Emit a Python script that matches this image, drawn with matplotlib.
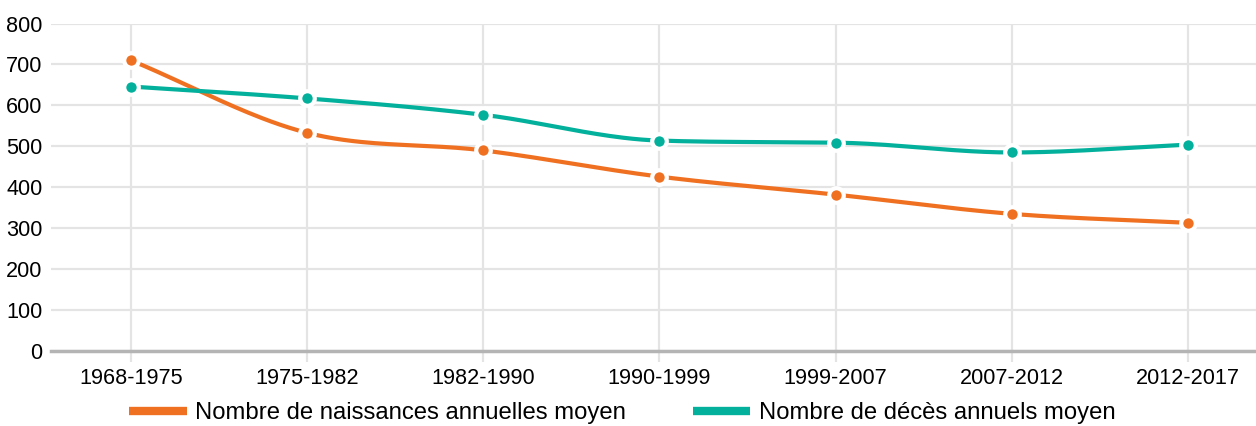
import numpy as np
import matplotlib
matplotlib.use('Agg')
import matplotlib.pyplot as plt

plt.rcParams['font.family'] = ['Liberation Sans', 'DejaVu Sans']

periodes = ['1968-1975', '1975-1982', '1982-1990', '1990-1999',
            '1999-2007', '2007-2012', '2012-2017']
naissances = [710, 533, 490, 426, 382, 335, 313]
deces = [646, 617, 577, 514, 509, 485, 504]

orange = '#ef7021'
teal = '#03b09b'
grid_col = '#e4e4e4'


def monotone(x, y, n=40):
    # monotone cubic (Fritsch-Carlson) just for drawing the smooth curve
    x = np.asarray(x, float)
    y = np.asarray(y, float)
    h = np.diff(x)
    d = np.diff(y) / h
    m = np.zeros_like(y)
    m[0], m[-1] = d[0], d[-1]
    for i in range(1, len(y) - 1):
        m[i] = 0 if d[i - 1] * d[i] <= 0 else (d[i - 1] + d[i]) / 2
    for i in range(len(d)):
        if d[i] == 0:
            m[i] = m[i + 1] = 0
            continue
        a, b = m[i] / d[i], m[i + 1] / d[i]
        s = a * a + b * b
        if s > 9:
            t = 3 / np.sqrt(s)
            m[i], m[i + 1] = t * a * d[i], t * b * d[i]
    xs, ys = [], []
    for i in range(len(d)):
        t = np.linspace(0, 1, n)
        h00 = 2 * t**3 - 3 * t**2 + 1
        h10 = t**3 - 2 * t**2 + t
        h01 = -2 * t**3 + 3 * t**2
        h11 = t**3 - t**2
        xs.append(x[i] + t * h[i])
        ys.append(h00 * y[i] + h10 * h[i] * m[i] + h01 * y[i + 1] + h11 * h[i] * m[i + 1])
    return np.concatenate(xs), np.concatenate(ys)


fig = plt.figure(figsize=(12.56, 4.26), dpi=100)
ax = fig.add_axes([51 / 1256, 1 - 351 / 426, 1 - 51 / 1256, (351 - 23.5) / 426])

xpos = np.arange(len(periodes))
for vals, col, lab in [(naissances, orange, 'Nombre de naissances annuelles moyen'),
                       (deces, teal, 'Nombre de décès annuels moyen')]:
    sx, sy = monotone(xpos, vals)
    ax.plot(sx, sy, color=col, lw=3, zorder=3, label=lab, solid_capstyle='butt')
    ax.plot(xpos, vals, 'o', color=col, ms=10.5, mec='white', mew=3, zorder=4)

ax.set_xlim(-0.454, 6.386)
ax.set_ylim(0, 800)
ax.set_yticks(range(0, 801, 100))
ax.set_xticks(xpos)
ax.set_xticklabels(periodes)

ax.grid(True, color=grid_col, lw=1.6)
ax.set_axisbelow(True)
for s in ['left', 'right', 'top']:
    ax.spines[s].set_visible(False)
ax.spines['bottom'].set_color('#b4b4b4')
ax.spines['bottom'].set_linewidth(2.5)
ax.spines['bottom'].set_zorder(2)

ax.tick_params(axis='x', length=8, width=1.6, color=grid_col, labelsize=15.6, pad=4)
ax.tick_params(axis='y', length=0, labelsize=15.6, pad=6)

fig.legend(loc='center', bbox_to_anchor=(0.4955, 0.0305), ncol=2, frameon=False,
           fontsize=17.2, handlelength=2.4, handletextpad=0.35, columnspacing=2.8,
           borderpad=0, handleheight=0.5)
for lh in fig.legends[0].get_lines():
    lh.set_linewidth(6)

fig.savefig('out.png', dpi=100)
